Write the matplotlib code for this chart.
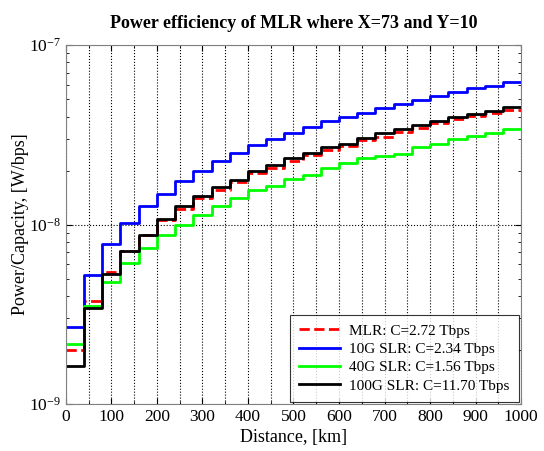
import numpy as np
import matplotlib
matplotlib.use("Agg")
import matplotlib.pyplot as plt
from matplotlib.ticker import MultipleLocator, LogLocator, NullFormatter

plt.rcParams['font.family'] = ['Liberation Serif', 'DejaVu Serif']
plt.rcParams['mathtext.fontset'] = 'custom'
plt.rcParams['mathtext.rm'] = 'Liberation Serif'
plt.rcParams['mathtext.it'] = 'Liberation Serif:italic'

# Distance bin edges (km)
distance_edges = list(range(0, 1001, 40))

mlr = [2.0e-9, 3.75e-9, 5.42e-9, 7.1e-9, 8.7e-9, 1.06e-8, 1.22e-8, 1.41e-8, 1.56e-8, 1.73e-8,
       1.94e-8, 2.08e-8, 2.26e-8, 2.44e-8, 2.62e-8, 2.75e-8, 2.96e-8, 3.07e-8, 3.29e-8, 3.46e-8,
       3.66e-8, 3.86e-8, 4.02e-8, 4.16e-8, 4.35e-8]
slr10 = [2.70e-9, 5.23e-9, 7.76e-9, 1.02e-8, 1.27e-8, 1.49e-8, 1.75e-8, 2.0e-8, 2.26e-8, 2.51e-8,
         2.77e-8, 2.98e-8, 3.25e-8, 3.48e-8, 3.77e-8, 3.96e-8, 4.2e-8, 4.44e-8, 4.69e-8, 4.94e-8,
         5.22e-8, 5.49e-8, 5.74e-8, 5.93e-8, 6.25e-8]
slr40 = [2.17e-9, 3.5e-9, 4.8e-9, 6.1e-9, 7.43e-9, 8.74e-9, 1.0e-8, 1.13e-8, 1.27e-8, 1.41e-8,
         1.56e-8, 1.65e-8, 1.79e-8, 1.90e-8, 2.06e-8, 2.21e-8, 2.34e-8, 2.40e-8, 2.46e-8, 2.69e-8,
         2.81e-8, 2.98e-8, 3.11e-8, 3.22e-8, 3.39e-8]
slr100 = [1.63e-9, 3.42e-9, 5.32e-9, 7.1e-9, 8.8e-9, 1.07e-8, 1.27e-8, 1.44e-8, 1.62e-8, 1.78e-8,
          2.0e-8, 2.14e-8, 2.34e-8, 2.52e-8, 2.69e-8, 2.83e-8, 3.02e-8, 3.25e-8, 3.43e-8, 3.61e-8,
          3.79e-8, 3.96e-8, 4.13e-8, 4.29e-8, 4.53e-8]

labels = ['MLR: C=2.72 Tbps', '10G SLR: C=2.34 Tbps', '40G SLR: C=1.56 Tbps', '100G SLR: C=11.70 Tbps']

fig = plt.figure(figsize=(5.44, 4.51), dpi=100)
ax = fig.add_axes([0.121, 0.104, 0.837, 0.796])

def stepit(vals):
    return list(vals) + [vals[-1]]

ax.step(distance_edges, stepit(mlr), where='post', color='#ff0000', ls='--', lw=2, label=labels[0])
ax.step(distance_edges, stepit(slr10), where='post', color='#0000ff', lw=2, label=labels[1])
ax.step(distance_edges, stepit(slr40), where='post', color='#00ff00', lw=2, label=labels[2])
ax.step(distance_edges, stepit(slr100), where='post', color='#000000', lw=2, label=labels[3])

ax.set_yscale('log')
ax.set_xlim(0, 1000)
ax.set_ylim(1e-9, 1e-7)
ax.xaxis.set_major_locator(MultipleLocator(100))
ax.xaxis.set_minor_locator(MultipleLocator(50))
ax.yaxis.set_major_locator(LogLocator(base=10))
ax.yaxis.set_minor_locator(LogLocator(base=10, subs=np.arange(2, 10)))
ax.yaxis.set_minor_formatter(NullFormatter())

ax.grid(True, which='major', axis='y', ls=':', color='black', lw=0.8)
ax.grid(True, which='both', axis='x', ls=':', color='black', lw=0.8)

ax.tick_params(which='both', direction='in', top=True, right=True, labelsize=12.5, colors='black')
ax.tick_params(which='major', length=4)
ax.tick_params(which='minor', length=2.5)
for s in ax.spines.values():
    s.set_color('#808080')
    s.set_linewidth(0.8)

ax.set_xlabel('Distance, [km]', fontsize=13, labelpad=3)
ax.set_ylabel('Power/Capacity, [W/bps]', fontsize=13, labelpad=0)
ax.set_title('Power efficiency of MLR where X=73 and Y=10', fontsize=13, fontweight='bold', pad=12)

leg = ax.legend(loc='lower right', fontsize=11, frameon=True, fancybox=False, edgecolor='black',
                handlelength=2.7, handletextpad=0.6, borderpad=0.6, labelspacing=0.3,
                borderaxespad=0.15)
leg.get_frame().set_linewidth(0.8)

fig.savefig('out.png', dpi=100)
